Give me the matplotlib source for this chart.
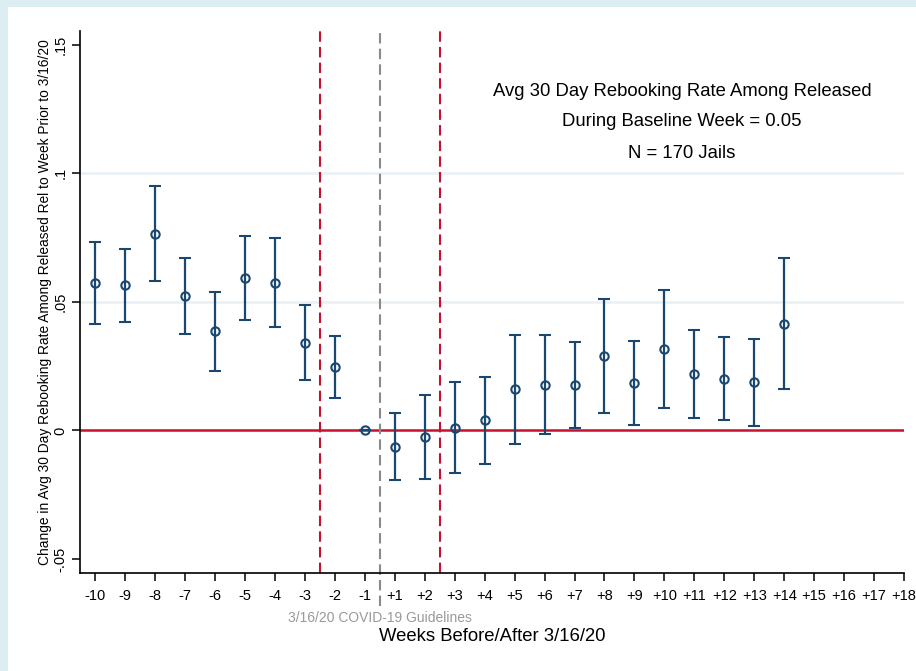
import numpy as np
import matplotlib
matplotlib.use("Agg")
import matplotlib.pyplot as plt
from matplotlib.patches import Rectangle

plt.rcParams['font.family'] = ['Liberation Sans', 'DejaVu Sans']

# Event-study estimates by week relative to 3/16/20 (baseline week -1 fixed at 0)
week_labels = ['-10', '-9', '-8', '-7', '-6', '-5', '-4', '-3', '-2', '-1',
               '+1', '+2', '+3', '+4', '+5', '+6', '+7', '+8', '+9',
               '+10', '+11', '+12', '+13', '+14', '+15', '+16', '+17', '+18']
coef = [0.0573, 0.0564, 0.0766, 0.0521, 0.0385, 0.0592, 0.0573, 0.0341, 0.0245, 0.0,
        -0.0064, -0.0027, 0.0010, 0.0039, 0.0161, 0.0177, 0.0176, 0.0289, 0.0184,
        0.0316, 0.0219, 0.0201, 0.0187, 0.0415]
ci_low = [0.0414, 0.0421, 0.0582, 0.0375, 0.0232, 0.0430, 0.0402, 0.0196, 0.0126, 0.0,
          -0.0193, -0.0191, -0.0166, -0.0130, -0.0051, -0.0014, 0.0009, 0.0066, 0.0022,
          0.0086, 0.0047, 0.0039, 0.0018, 0.0160]
ci_high = [0.0734, 0.0707, 0.0952, 0.0669, 0.0538, 0.0756, 0.0747, 0.0486, 0.0368, 0.0,
           0.0066, 0.0138, 0.0187, 0.0209, 0.0372, 0.0371, 0.0343, 0.0512, 0.0349,
           0.0546, 0.0391, 0.0363, 0.0354, 0.0669]
ytick_vals = [-0.05, 0, 0.05, 0.1, 0.15]
ytick_text = ['-.05', '0', '.05', '.1', '.15']
note_lines = ['Avg 30 Day Rebooking Rate Among Released',
              'During Baseline Week = 0.05',
              'N = 170 Jails']

navy = '#1a476f'
red = '#c8102e'

fig = plt.figure(figsize=(9.16, 6.71), dpi=100)
fig.patch.set_facecolor('#ddeef3')
# white plot region inside the light blue border
fig.patches.append(Rectangle((8 / 916, 0), 1, 1 - 7 / 671, transform=fig.transFigure,
                             facecolor='white', edgecolor='none', zorder=-5))

ax = fig.add_axes([80 / 916, 1 - 573.3 / 671, 824 / 916, 542.3 / 671])
ax.set_facecolor('white')

x = np.arange(len(coef))
coef = np.array(coef)
err = [coef - np.array(ci_low), np.array(ci_high) - coef]

for yv in [0.05, 0.1]:
    ax.axhline(yv, color='#e8f0f4', lw=1.8, zorder=1)
ax.axhline(0, color=red, lw=1.8, zorder=2)

ax.axvline(7.5, color=red, lw=1.5, linestyle=(0, (5, 2.5)), zorder=2)
ax.axvline(11.5, color=red, lw=1.5, linestyle=(0, (5, 2.5)), zorder=2)
ax.axvline(9.5, ymin=-0.06, ymax=1, color='#8a8a8a', lw=1.5,
           linestyle=(0, (5, 2.5)), clip_on=False, zorder=2)

ax.errorbar(x, coef, yerr=err, fmt='o', color=navy, ecolor=navy, elinewidth=1.6,
            capsize=4.3, capthick=1.6, markersize=6, markerfacecolor='none',
            markeredgewidth=1.5, zorder=3)

ax.set_xlim(-0.51, 27)
ax.set_ylim(-0.0556, 0.1554)
ax.set_xticks(np.arange(len(week_labels)))
ax.set_xticklabels(week_labels, fontsize=10.5)
ax.set_yticks(ytick_vals)
ax.set_yticklabels(ytick_text, fontsize=10.5, rotation=90, va='center')
ax.tick_params(axis='both', length=6, width=1.1, color='black')
ax.tick_params(axis='x', pad=5)
ax.tick_params(axis='y', pad=3)

for side in ['top', 'right']:
    ax.spines[side].set_visible(False)
for side in ['left', 'bottom']:
    ax.spines[side].set_linewidth(1.2)

ax.set_ylabel('Change in Avg 30 Day Rebooking Rate Among Released Rel to Week Prior to 3/16/20',
              fontsize=9.9, labelpad=1)

fig.text(380 / 916, 1 - 618 / 671, '3/16/20 COVID-19 Guidelines', color='#999999',
         fontsize=10, ha='center', va='center')
fig.text(492 / 916, 1 - 636.5 / 671, 'Weeks Before/After 3/16/20', fontsize=13.3,
         ha='center', va='center')

for i, line in enumerate(note_lines):
    fig.text(682 / 916, 1 - (91 + 31 * i) / 671, line, fontsize=13.3,
             ha='center', va='center')

fig.savefig('out.png', dpi=100)
